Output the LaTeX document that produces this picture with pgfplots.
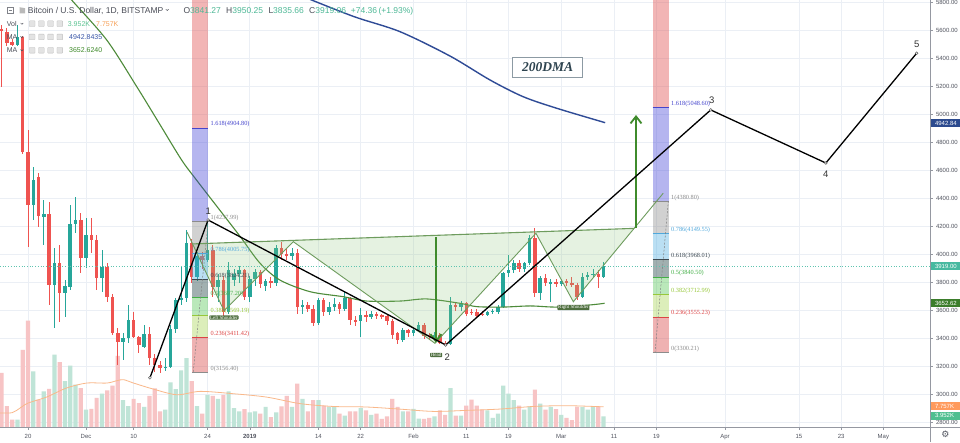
\documentclass[border=0pt]{standalone}
\usepackage{pgfplots}
\pgfplotsset{compat=1.18}
\usepackage{pgfplotstable}
\usepackage{fontspec}
\setmainfont{Liberation Sans}
\newfontfamily\seriffont{Liberation Serif}
\newfontfamily\dejavu{DejaVu Sans}
\usetikzlibrary{arrows.meta}

\definecolor{gridc}{HTML}{EBEFF5}
\definecolor{axisc}{HTML}{9598A1}
\definecolor{lblc}{HTML}{50535E}
\definecolor{cgreen}{HTML}{26A69A}
\definecolor{cred}{HTML}{EF5350}
\definecolor{vgreen}{HTML}{BFE4D7}
\definecolor{vred}{HTML}{F7C4C5}
\definecolor{vma}{HTML}{F9B88A}
\definecolor{mablue}{HTML}{2F4B96}
\definecolor{magreen}{HTML}{4E8B3A}
\definecolor{lastc}{HTML}{5FC4B0}
\definecolor{hsline}{HTML}{6E9C5E}
\definecolor{hsfill}{HTML}{8CC47A}
\definecolor{arrowc}{HTML}{3F8B2C}
\definecolor{hsdark}{HTML}{4F6F3F}
\definecolor{fzTop}{HTML}{E04848}
\definecolor{fzBlue}{HTML}{3434D4}
\definecolor{fzGray}{HTML}{808080}
\definecolor{fzLBlue}{HTML}{40A8E0}
\definecolor{fzDGray}{HTML}{305050}
\definecolor{fzGreen}{HTML}{40C040}
\definecolor{fzYGreen}{HTML}{A0D040}
\definecolor{fzPink}{HTML}{D84040}
\definecolor{flA}{HTML}{4444CC}
\definecolor{flB}{HTML}{8C8C8C}
\definecolor{flC}{HTML}{4FA8DC}
\definecolor{flD}{HTML}{3E4A52}
\definecolor{flE}{HTML}{43B047}
\definecolor{flF}{HTML}{98C83A}
\definecolor{flG}{HTML}{DD4444}
\definecolor{hdrtxt}{HTML}{4A4D57}
\definecolor{hdrval}{HTML}{4DB896}
\definecolor{volgtxt}{HTML}{5CC392}
\definecolor{volotxt}{HTML}{F7A25A}
\definecolor{mabtxt}{HTML}{3A57A8}
\definecolor{magtxt}{HTML}{3F8A2A}
\definecolor{boxblue}{HTML}{2C4A8E}
\definecolor{boxteal}{HTML}{47B9A0}
\definecolor{boxgreen}{HTML}{3B7D2B}
\definecolor{boxorange}{HTML}{FF9A5C}
\definecolor{boxvgreen}{HTML}{4FBF90}
\definecolor{dmatxt}{HTML}{2E4450}
\definecolor{dmabox}{HTML}{8C9AA3}

\pgfplotstableread{
d O H L C V
-2 5498 5640 5490 5557 2.8
1 4355 4629 4248 4533 21.4
3 4267 4390 4069 4288 13.7
5 3783 4045 3474 3938 27.8
7 3724 3819 3557 3776 17.6
8 3771 4355 3748 4219 23.6
9 4219 4410 4152 4248 16.3
11 3974 4260 3902 4140 6.7
14 3831 4033 3736 3914 12.8
18 3379 3440 3248 3402 10.3
19 3402 3640 3367 3533 8.0
22 3343 3498 3331 3433 7.7
26 3190 3260 3170 3200 6.7
27 3200 3500 3190 3470 17.2
28 3470 3690 3440 3676 14.6
29 3676 3920 3640 3690 21.8
30 3690 4176 3660 4081 26.5
32 3843 4020 3810 3990 8.0
34 3960 4238 3950 4035 12.4
36 3771 3860 3660 3819 10.8
38 3593 3950 3580 3890 13.7
39 3820 3900 3780 3860 7.3
40 3860 3920 3800 3890 6.0
42 3700 3850 3660 3830 5.6
43 3830 3900 3780 3880 6.0
45 3780 3830 3740 3810 7.7
47 3795 4070 3780 4045 5.6
50 3990 4050 3960 4010 7.7
52 3625 3680 3580 3640 10.8
55 3510 3690 3500 3676 10.3
57 3590 3660 3570 3630 7.7
58 3630 3690 3600 3650 7.7
60 3610 3740 3600 3690 4.4
63 3525 3620 3414 3570 7.3
65 3555 3600 3540 3575 4.7
71 3390 3480 3380 3462 6.0
73 3440 3480 3420 3465 7.0
74 3465 3520 3450 3500 3.2
77 3412 3445 3400 3430 4.1
80 3362 3700 3355 3640 15.0
82 3625 3670 3600 3645 4.4
87 3570 3600 3560 3590 6.4
88 3590 3610 3580 3600 3.5
89 3590 3640 3575 3629 5.1
90 3629 3880 3620 3867 15.9
91 3867 3998 3840 3890 12.8
92 3890 3960 3870 3938 10.3
94 3895 3950 3880 3938 6.7
95 3938 4140 3930 4117 7.9
97 3724 3850 3677 3831 9.0
99 3795 3830 3664 3807 7.7
101 3790 3830 3780 3810 4.7
105 3700 3870 3690 3843 7.7
106 3843 3880 3820 3855 6.7
107 3855 3900 3840 3865 7.9
109 3841 3950 3836 3919 4.1
}\greentab

\pgfplotstableread{
d O H L C V
-5 5610 5640 5200 5595 20.8
-4 5593 5620 5490 5510 8.0
-3 5521 5540 5490 5500 2.8
-1 5557 5565 4720 4736 29.7
0 4736 4890 4057 4355 40.9
2 4552 4586 4200 4276 10.5
4 4288 4379 3640 3783 14.7
6 3938 4069 3521 3724 25.0
10 4248 4295 3867 3974 15.0
12 4140 4260 4010 4105 7.0
13 4105 4140 3748 3831 11.2
15 3914 3938 3664 3700 14.1
16 3700 3720 3426 3438 15.9
17 3438 3474 3212 3379 27.4
20 3533 3593 3402 3414 10.8
21 3414 3420 3295 3355 9.2
23 3433 3486 3212 3260 12.0
24 3260 3290 3165 3215 14.9
25 3215 3240 3156 3190 6.0
31 4081 4110 3800 3843 17.6
33 3990 4020 3900 3960 5.1
35 4035 4070 3700 3771 12.0
37 3819 3850 3560 3593 12.4
41 3890 3900 3680 3700 6.9
44 3880 3890 3760 3790 5.1
46 3810 3840 3760 3795 3.8
48 4045 4090 3960 4005 7.9
49 4005 4040 3960 3990 12.0
51 4010 4040 3580 3629 16.7
53 3640 3660 3590 3612 6.0
54 3612 3640 3490 3510 10.3
56 3676 3690 3560 3590 8.2
59 3650 3660 3580 3610 5.1
61 3690 3700 3500 3533 6.0
62 3533 3560 3490 3520 6.0
64 3570 3600 3520 3555 6.4
66 3575 3590 3540 3565 5.1
67 3565 3580 3540 3560 3.1
68 3560 3575 3500 3530 4.1
69 3530 3540 3400 3426 10.8
70 3438 3450 3360 3390 7.7
72 3462 3470 3410 3440 6.0
75 3500 3510 3400 3420 3.1
76 3420 3440 3395 3412 3.5
78 3430 3440 3360 3372 6.4
79 3372 3385 3350 3362 4.7
81 3640 3660 3600 3625 4.4
83 3653 3665 3560 3575 8.2
84 3590 3610 3570 3585 10.5
85 3593 3615 3550 3562 8.2
86 3580 3600 3560 3570 6.7
93 3938 3960 3880 3895 8.2
96 4117 4188 3700 3724 14.4
98 3831 3860 3780 3800 6.7
100 3807 3830 3770 3790 6.9
102 3810 3830 3780 3800 3.5
103 3800 3840 3770 3785 2.6
104 3785 3800 3680 3700 7.7
108 3865 3890 3762 3841 7.9
}\redtab

\pgfplotstableread{
d V
-5.3 5.4
-3 5.5
-1.5 7.3
0 9.2
3.5 11.5
7.3 15.0
11.1 16.9
14.9 16.9
16.8 17.8
18.1 18.2
20 16.9
23.7 14.6
28.2 12.4
32.6 13.7
38.9 12.8
45.2 11.5
51.5 9.0
57.8 7.9
64 7.7
70.3 6.9
76.8 6.0
83.1 6.4
89.4 6.9
95.7 7.9
102 8.2
109 7.76
}\volma

\newcommand\pp[2]{({#1pt},{442pt-#2pt})}

\begin{document}
\begin{tikzpicture}
\useasboundingbox (0pt,0pt) rectangle (960pt,442pt);
\fill[white] (0pt,0pt) rectangle (960pt,442pt);
\begin{axis}[
  at={(0pt,15pt)}, anchor=south west,
  width=930pt, height=427pt, scale only axis,
  xmin=-5.303, xmax=170.83, ymin=2769.3, ymax=5819.3,
  axis x line*=bottom, axis y line*=right,
  axis line style={draw=axisc, line width=0.6pt},
  xtick={0,11,20,34,42,55,63,73,83,91,101,111,119,132,146,154,162},
  xticklabels={20,Dec,10,24,\textbf{2019},14,22,Feb,11,19,Mar,11,19,Apr,15,23,May},
  ytick={2800,3000,...,5800},
  /pgf/number format/assume math mode=true,
  yticklabel style={/pgf/number format/.cd, fixed, fixed zerofill, precision=2, 1000 sep={}},
  ticklabel style={font=\fontsize{6}{7}\selectfont, text=lblc},
  xticklabel style={yshift=-1pt},
  tick align=outside, major tick length=2.5pt,
  tick style={draw=axisc, line width=0.5pt},
  grid=major, grid style={draw=gridc, line width=0.6pt},
  clip=true,
]
% volume
\addplot[ybar, bar width=4.2pt, bar shift=0pt, fill=vgreen, draw=none, forget plot]
  table[x=d, y expr={2769.3+18.571*\thisrow{V}}] {\greentab};
\addplot[ybar, bar width=4.2pt, bar shift=0pt, fill=vred, draw=none, forget plot]
  table[x=d, y expr={2769.3+18.571*\thisrow{V}}] {\redtab};
\addplot[vma, line width=0.8pt, smooth, forget plot]
  table[x=d, y expr={2769.3+18.571*\thisrow{V}}] {\volma};
% wicks
\addplot[draw=none, mark=none, forget plot,
  error bars/.cd, y dir=both, y explicit, error mark=none,
  error bar style={draw=cgreen, line width=0.8pt}]
  table[x=d, y expr={(\thisrow{H}+\thisrow{L})/2}, y error expr={(\thisrow{H}-\thisrow{L})/2}] {\greentab};
\addplot[draw=none, mark=none, forget plot,
  error bars/.cd, y dir=both, y explicit, error mark=none,
  error bar style={draw=cred, line width=0.8pt}]
  table[x=d, y expr={(\thisrow{H}+\thisrow{L})/2}, y error expr={(\thisrow{H}-\thisrow{L})/2}] {\redtab};
% bodies
\addplot[draw=none, mark=none, forget plot,
  error bars/.cd, y dir=both, y explicit, error mark=none,
  error bar style={draw=cgreen, line width=3.5pt}]
  table[x=d, y expr={(\thisrow{O}+\thisrow{C})/2}, y error expr={max(abs(\thisrow{C}-\thisrow{O})/2,3.5)}] {\greentab};
\addplot[draw=none, mark=none, forget plot,
  error bars/.cd, y dir=both, y explicit, error mark=none,
  error bar style={draw=cred, line width=3.5pt}]
  table[x=d, y expr={(\thisrow{O}+\thisrow{C})/2}, y error expr={max(abs(\thisrow{C}-\thisrow{O})/2,3.5)}] {\redtab};
% moving averages
\addplot[magreen, line width=1.1pt, smooth, forget plot] coordinates {
(7.9,5845) (8.27,5819) (14.9,5534) (20.6,5200) (25,4929) (29.1,4676) (31.9,4534) (36,4334)
(40.2,4129) (43.9,3941) (47.7,3819) (53.4,3736) (59.7,3700) (64.1,3669) (70.5,3669)
(75.5,3684) (81.8,3653) (85,3629) (90,3626) (95.1,3634) (100.1,3626) (106.4,3641) (109.2,3653)};
\addplot[mablue, line width=1.4pt, smooth, forget plot] coordinates {
(52.46,5841) (53.73,5819) (61.93,5698) (70.45,5593) (79.92,5419) (87.5,5248)
(93.75,5129) (100.13,5046) (109.3,4943)};
% head and shoulders fill
\fill[hsfill, fill opacity=0.22] (axis cs:31.17,4077) -- (axis cs:37.12,3600) -- (axis cs:50.25,4093)
  -- (axis cs:77.08,3367) -- (axis cs:96.2,4153) -- (axis cs:103.28,3664) -- (axis cs:114.8,4188) -- cycle;
% left fib
\fill[fzTop, fill opacity=0.40] (axis cs:31.1,4904.8) rectangle (axis cs:34.15,5900);
\fill[fzBlue, fill opacity=0.36] (axis cs:31.1,4237.99) rectangle (axis cs:34.15,4904.8);
\fill[fzGray, fill opacity=0.36] (axis cs:31.1,4005.75) rectangle (axis cs:34.15,4237.99);
\fill[fzLBlue, fill opacity=0.36] (axis cs:31.1,3824.21) rectangle (axis cs:34.15,4005.75);
\fill[fzDGray, fill opacity=0.45] (axis cs:31.1,3697.2) rectangle (axis cs:34.15,3824.21);
\fill[fzGreen, fill opacity=0.36] (axis cs:31.1,3569.19) rectangle (axis cs:34.15,3697.2);
\fill[fzYGreen, fill opacity=0.36] (axis cs:31.1,3411.42) rectangle (axis cs:34.15,3569.19);
\fill[fzPink, fill opacity=0.40] (axis cs:31.1,3156.4) rectangle (axis cs:34.15,3411.42);
\addplot[flA, line width=0.8pt, forget plot] coordinates {(31.1,4904.8) (34.15,4904.8)};
\addplot[flB, line width=0.8pt, forget plot] coordinates {(31.1,4237.99) (34.15,4237.99)};
\addplot[flC, line width=0.8pt, forget plot] coordinates {(31.1,4005.75) (34.15,4005.75)};
\addplot[flD, line width=0.8pt, forget plot] coordinates {(31.1,3824.21) (34.15,3824.21)};
\addplot[flE, line width=0.8pt, forget plot] coordinates {(31.1,3697.2) (34.15,3697.2)};
\addplot[flF, line width=0.8pt, forget plot] coordinates {(31.1,3569.19) (34.15,3569.19)};
\addplot[flG, line width=0.8pt, forget plot] coordinates {(31.1,3411.42) (34.15,3411.42)};
\addplot[flB, line width=0.8pt, forget plot] coordinates {(31.1,3156.4) (34.15,3156.4)};
\addplot[gray, line width=0.5pt, dash pattern=on 2pt off 1.5pt, forget plot] coordinates {(31.3,3164) (34.15,4248)};
% right fib
\fill[fzTop, fill opacity=0.40] (axis cs:118.3,5048.6) rectangle (axis cs:121.4,5900);
\fill[fzBlue, fill opacity=0.36] (axis cs:118.3,4380.8) rectangle (axis cs:121.4,5048.6);
\fill[fzGray, fill opacity=0.36] (axis cs:118.3,4149.55) rectangle (axis cs:121.4,4380.8);
\fill[fzLBlue, fill opacity=0.36] (axis cs:118.3,3968.01) rectangle (axis cs:121.4,4149.55);
\fill[fzDGray, fill opacity=0.45] (axis cs:118.3,3840.5) rectangle (axis cs:121.4,3968.01);
\fill[fzGreen, fill opacity=0.36] (axis cs:118.3,3712.99) rectangle (axis cs:121.4,3840.5);
\fill[fzYGreen, fill opacity=0.36] (axis cs:118.3,3555.23) rectangle (axis cs:121.4,3712.99);
\fill[fzPink, fill opacity=0.40] (axis cs:118.3,3300.21) rectangle (axis cs:121.4,3555.23);
\addplot[flA, line width=0.8pt, forget plot] coordinates {(118.3,5048.6) (121.4,5048.6)};
\addplot[flB, line width=0.8pt, forget plot] coordinates {(118.3,4380.8) (121.4,4380.8)};
\addplot[flC, line width=0.8pt, forget plot] coordinates {(118.3,4149.55) (121.4,4149.55)};
\addplot[flD, line width=0.8pt, forget plot] coordinates {(118.3,3968.01) (121.4,3968.01)};
\addplot[flE, line width=0.8pt, forget plot] coordinates {(118.3,3840.5) (121.4,3840.5)};
\addplot[flF, line width=0.8pt, forget plot] coordinates {(118.3,3712.99) (121.4,3712.99)};
\addplot[flG, line width=0.8pt, forget plot] coordinates {(118.3,3555.23) (121.4,3555.23)};
\addplot[flB, line width=0.8pt, forget plot] coordinates {(118.3,3300.21) (121.4,3300.21)};
\addplot[gray, line width=0.5pt, dash pattern=on 2pt off 1.5pt, forget plot] coordinates {(118.75,3300) (121.27,4380)};
% fib labels
\begin{scope}[every node/.style={anchor=west, inner sep=0, yshift=3.6pt, font=\seriffont\fontsize{6.3}{7}\selectfont}]
\node[text=flA] at (axis cs:34.56,4904.8) {1.618(4904.80)};
\node[text=flB] at (axis cs:34.56,4237.99) {1(4237.99)};
\node[text=flC] at (axis cs:34.56,4005.75) {0.786(4005.75)};
\node[text=flD] at (axis cs:34.56,3824.21) {0.618(3824.21)};
\node[text=flE] at (axis cs:34.56,3697.2) {0.5(3697.20)};
\node[text=flF] at (axis cs:34.56,3569.19) {0.382(3569.19)};
\node[text=flG] at (axis cs:34.56,3411.42) {0.236(3411.42)};
\node[text=flB] at (axis cs:34.56,3156.4) {0(3156.40)};
\node[text=flA] at (axis cs:121.78,5048.6) {1.618(5048.60)};
\node[text=flB] at (axis cs:121.78,4380.8) {1(4380.80)};
\node[text=flC] at (axis cs:121.78,4149.55) {0.786(4149.55)};
\node[text=flD] at (axis cs:121.78,3968.01) {0.618(3968.01)};
\node[text=flE] at (axis cs:121.78,3840.5) {0.5(3840.50)};
\node[text=flF] at (axis cs:121.78,3712.99) {0.382(3712.99)};
\node[text=flG] at (axis cs:121.78,3555.23) {0.236(3555.23)};
\node[text=flB] at (axis cs:121.78,3300.21) {0(3300.21)};
\end{scope}
% head and shoulders lines
\addplot[hsline, line width=0.9pt, forget plot] coordinates {
(30.11,4162) (37.12,3600) (50.25,4093) (77.08,3367) (96.2,4153) (103.28,3664) (120.3,4439)};
\addplot[hsline, line width=1.1pt, forget plot] coordinates {(31.17,4077) (114.8,4188)};
% arrows
\addplot[arrowc, line width=2.4pt, -{Straight Barb[length=7pt,width=11pt,line width=1.8pt]}, forget plot] coordinates {(77.25,4125) (77.25,3372)};
\addplot[arrowc, line width=2.4pt, -{Straight Barb[length=7pt,width=11pt,line width=1.8pt]}, forget plot] coordinates {(115.15,4189) (115.15,4998)};
% elliott waves
\addplot[black, line width=1.3pt, mark=*, mark size=1.4pt,
  mark options={fill=white, draw=gray!70!black, line width=0.5pt}, forget plot] coordinates {
(23.1,3121) (34.1,4248) (79.1,3355) (129.3,5034) (151.1,4655) (168.3,5439)};
% pattern labels
\begin{scope}[every node/.style={fill=hsdark, text=white, inner xsep=0.8pt, inner ysep=0.4pt, rounded corners=0.8pt, font=\seriffont\fontsize{5}{5.5}\selectfont}]
\node at (axis cs:37.1,3551) {Left Shoulder};
\node at (axis cs:77.3,3284) {Head};
\node at (axis cs:103.3,3623) {Right Shoulder};
\end{scope}
\begin{scope}[every node/.style={inner sep=0, font=\fontsize{9.5}{10}\selectfont, text=black!80}]
\node at (axis cs:34.15,4307) {1};
\node at (axis cs:79.4,3268) {2};
\node at (axis cs:129.5,5105) {3};
\node at (axis cs:151.1,4576) {4};
\node at (axis cs:168.3,5503) {5};
\end{scope}
\node[draw=dmabox, line width=0.6pt, fill=white, minimum width=70pt, minimum height=20pt, inner sep=0,
  font=\seriffont\bfseries\itshape\fontsize{13.5}{14}\selectfont, text=dmatxt] at (axis cs:98.42,5339) {200DMA};
% last price line
\addplot[lastc, line width=0.7pt, dotted, forget plot] coordinates {(-5.3,3919) (170.83,3919)};
\end{axis}

% frame lines
\draw[axisc, line width=0.6pt] (930pt,0pt) -- (930pt,442pt);
\draw[axisc, line width=0.6pt] (0pt,15pt) -- (960pt,15pt);

% header
\draw[hdrtxt!70, line width=0.5pt] \pp{7.6}{13.2} rectangle \pp{13.2}{7.6};
\draw[hdrtxt!70, line width=0.5pt] \pp{8.9}{10.4} -- \pp{11.9}{10.4};
\fill[gray!55] \pp{19.5}{13.5} -- \pp{19.5}{7.2} -- \pp{25}{8.2} -- \pp{25}{13.5} -- cycle;
\node[anchor=base west, inner sep=0, font=\fontsize{8.5}{10}\selectfont, text=hdrtxt] at \pp{27.7}{13.1} {Bitcoin / U.S. Dollar, 1D, BITSTAMP};
\draw[hdrtxt, line width=0.5pt] \pp{165.8}{9.2} -- \pp{167.2}{10.6} -- \pp{168.6}{9.2};
\begin{scope}[every node/.style={anchor=base west, inner sep=0, font=\fontsize{8.5}{10}\selectfont, text=hdrtxt}]
\node at \pp{183.3}{13.1} {O\textcolor{hdrval}{3841.27}};
\node at \pp{226}{13.1} {H\textcolor{hdrval}{3950.25}};
\node at \pp{268.3}{13.1} {L\textcolor{hdrval}{3835.66}};
\node at \pp{309}{13.1} {C\textcolor{hdrval}{3919.06}};
\node[text=hdrval] at \pp{350.7}{13.1} {+74.36};
\node[text=hdrval] at \pp{378.3}{13.1} {(+1.93\%)};
\end{scope}
\begin{scope}[every node/.style={anchor=base west, inner sep=0, font=\fontsize{7}{8}\selectfont, text=hdrtxt}]
\node at \pp{6.7}{26.2} {Vol};
\node at \pp{6.7}{39.5} {MA};
\node at \pp{6.7}{52.8} {MA};
\node[text=volgtxt] at \pp{67.7}{26.2} {3.952K};
\node[text=volotxt] at \pp{96}{26.2} {7.757K};
\node[text=mabtxt] at \pp{69}{39.5} {4942.8435};
\node[text=magtxt] at \pp{69}{52.8} {3652.6240};
\end{scope}
\foreach \yc in {23.7,37,50.3} {
  \draw[hdrtxt, line width=0.45pt] ({20.6pt},{442pt-(\yc-0.7)*1pt}) -- ({21.9pt},{442pt-(\yc+0.6)*1pt}) -- ({23.2pt},{442pt-(\yc-0.7)*1pt});
  \foreach \xx in {29.3,38.5,47.7,56.9} {
    \filldraw[fill=gray!22, draw=gray!50, line width=0.3pt, rounded corners=0.6pt]
      ({\xx*1pt},{442pt-(\yc+2.85)*1pt}) rectangle ++(5.7pt,5.7pt);
  }
}

% right axis value boxes
\begin{scope}[every node/.style={anchor=west, inner sep=0, minimum height=7.6pt, text=white, font=\fontsize{6}{7}\selectfont}]
\node[fill=boxblue] at \pp{930.6}{123} {\makebox[29.4pt][l]{\hspace{4.2pt}4942.84}};
\node[fill=boxteal] at \pp{930.6}{266.2} {\makebox[29.4pt][l]{\hspace{4.2pt}3919.00}};
\node[fill=boxgreen] at \pp{930.6}{303} {\makebox[29.4pt][l]{\hspace{4.2pt}3652.62}};
\node[fill=boxorange] at \pp{930.6}{406.2} {\makebox[29.4pt][l]{\hspace{4.2pt}7.757K}};
\node[fill=boxvgreen] at \pp{930.6}{415.8} {\makebox[29.4pt][l]{\hspace{4.2pt}3.952K}};
\end{scope}
\node[inner sep=0, text=lblc] at \pp{945.5}{434.5} {\dejavu\fontsize{9}{9}\selectfont ⚙};
\end{tikzpicture}
\end{document}
